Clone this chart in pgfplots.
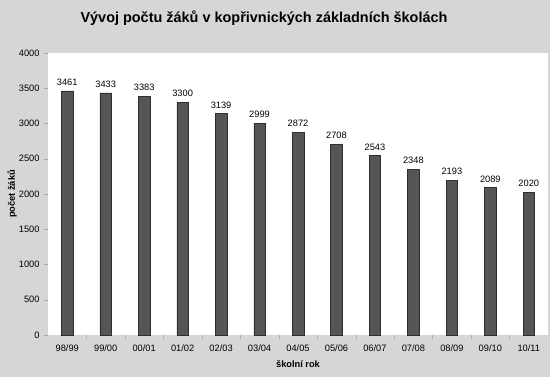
\documentclass[border=0pt]{standalone}
\usepackage{pgfplots}
\pgfplotsset{compat=1.18}
\usepackage{fontspec}
\setmainfont{Liberation Sans}
\definecolor{bgc}{HTML}{D6D6D6}
\definecolor{barc}{HTML}{555555}
\definecolor{bard}{HTML}{2E2E2E}
\begin{document}
\begin{tikzpicture}[x=1bp,y=1bp]
\fill[bgc] (0,0) rectangle (550,377);
\node[font=\bfseries\fontsize{14.5}{16}\selectfont] at (264,359) {Vývoj počtu žáků v kopřivnických základních školách};
\begin{axis}[
  at={(48bp,42bp)}, anchor=south west,
  scale only axis, width=500bp, height=282bp,
  axis background/.style={fill=white},
  axis line style={draw=none},
  ymin=0, ymax=4000, ytick={0,500,...,4000},
  xmin=-0.5, xmax=12.5,
  xtick={0,...,12},
  xticklabels={98/99,99/00,00/01,01/02,02/03,03/04,04/05,05/06,06/07,07/08,08/09,09/10,10/11},
  minor xtick={0.5,1.5,...,11.5},
  major x tick style={draw=none},
  minor x tick style={draw=gray!60, line width=0.4pt},
  minor tick length=4bp,
  major tick length=4bp,
  tick align=outside,
  y tick style={draw=gray!70, line width=0.4pt},
  xtick pos=bottom, ytick pos=left,
  ticklabel style={font=\fontsize{9.3}{11}\selectfont},
  /pgf/number format/assume math mode=true,
  scaled y ticks=false,
  yticklabel style={/pgf/number format/1000 sep={}},
  xlabel={\bfseries školní rok},
  ylabel={\bfseries počet žáků},
  xlabel style={font=\fontsize{9.3}{11}\selectfont, at={(rel axis cs:0.5,0)}, anchor=center, yshift=-29bp},
  ylabel style={font=\fontsize{9.3}{11}\selectfont, at={(rel axis cs:0,0.5)}, anchor=center, rotate=0, yshift=36bp},
  x tick label style={yshift=-2bp},
  y tick label style={xshift=-1bp},
  nodes near coords,
  nodes near coords style={font=\fontsize{9.3}{11}\selectfont, /pgf/number format/1000 sep={}, /pgf/number format/assume math mode=true, yshift=2bp},
  clip=false,
]
\addplot[ybar, bar width=11.5bp, fill=barc, draw=bard, line width=0.5pt] coordinates {
(0,3461) (1,3433) (2,3383) (3,3300) (4,3139) (5,2999) (6,2872) (7,2708) (8,2543) (9,2348) (10,2193) (11,2089) (12,2020)
};
\end{axis}
\end{tikzpicture}
\end{document}
